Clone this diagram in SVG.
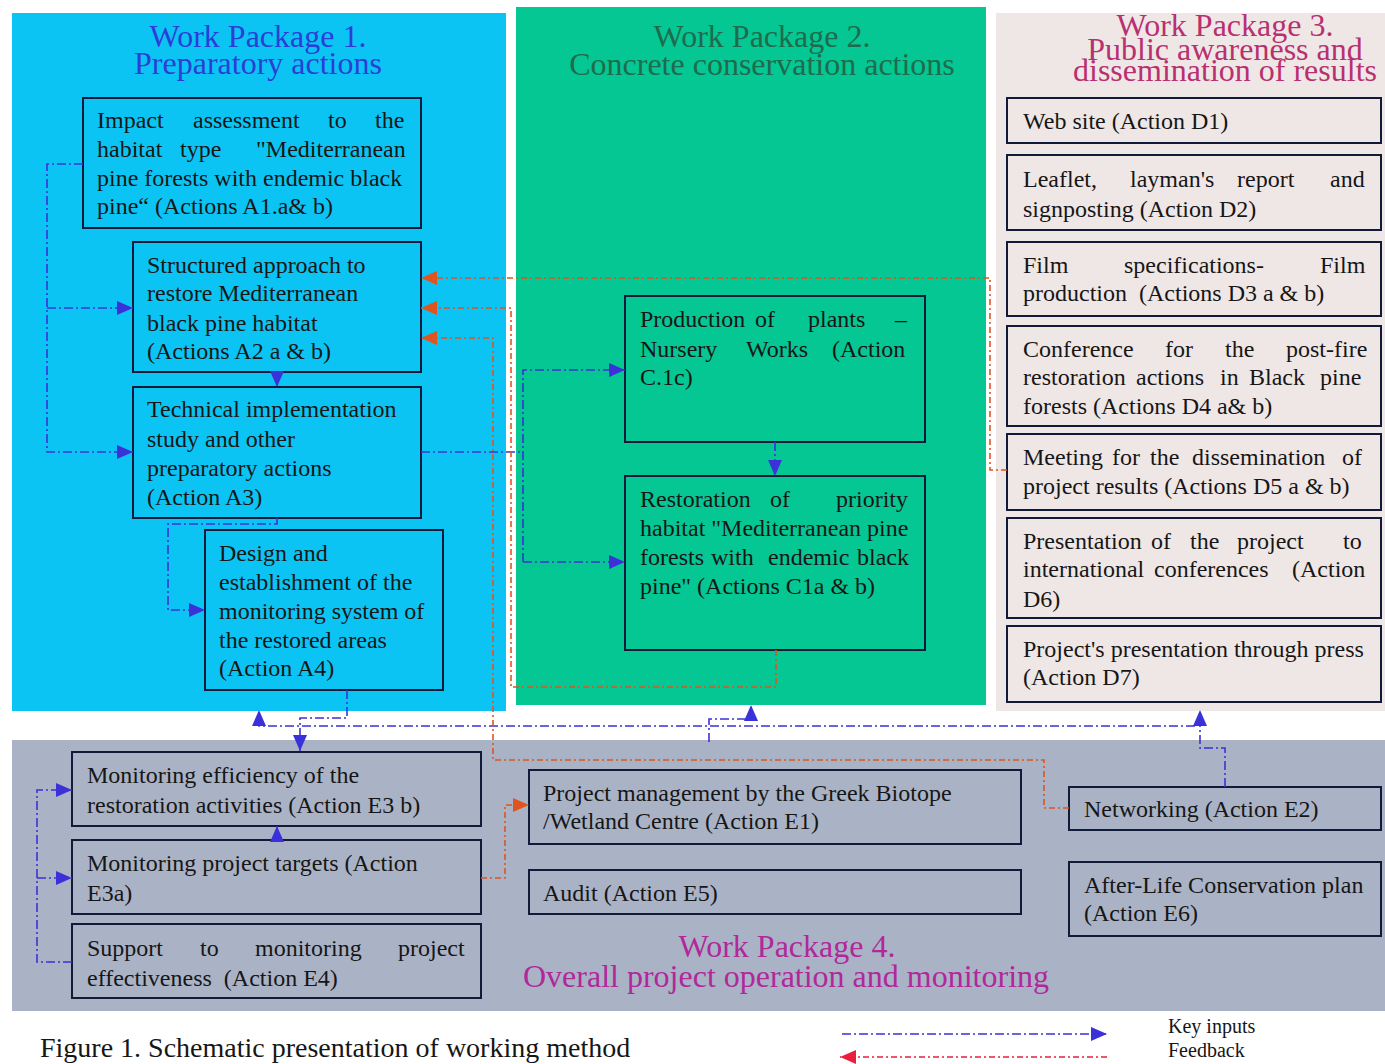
<svg xmlns="http://www.w3.org/2000/svg" width="1385" height="1064" viewBox="0 0 1385 1064">
<style>
text{font-family:"Liberation Serif","Times New Roman",serif;}
.t{font-size:24px;fill:#161616;}
.ttl{font-size:32px;text-anchor:middle;}
.box{stroke:#121a3a;stroke-width:2;}
.b1{fill:#0cc4f4;}
.b2{fill:#04c793;}
.b3{fill:#efe7e6;}
.b4{fill:#aab3c6;}
.key{fill:none;stroke:#3a32d8;stroke-width:1.6;stroke-dasharray:9 3 2 3;}
.fb{fill:none;stroke:#e0541e;stroke-width:1.6;stroke-dasharray:6 3 2 3;}
</style>
<defs>
<marker id="mk" markerUnits="userSpaceOnUse" markerWidth="16" markerHeight="14" refX="16" refY="7" orient="auto" viewBox="0 0 16 14"><path d="M0,0 L16,7 L0,14 z" fill="#3a32d8"/></marker>
<marker id="mf" markerUnits="userSpaceOnUse" markerWidth="16" markerHeight="14" refX="16" refY="7" orient="auto" viewBox="0 0 16 14"><path d="M0,0 L16,7 L0,14 z" fill="#e0541e"/></marker>
<marker id="mr" markerUnits="userSpaceOnUse" markerWidth="16" markerHeight="14" refX="16" refY="7" orient="auto" viewBox="0 0 16 14"><path d="M0,0 L16,7 L0,14 z" fill="#e8203c"/></marker>
</defs>
<rect width="1385" height="1064" fill="#ffffff"/>

<g id="wp1">
<rect class="b1" x="12" y="13" width="494" height="698"/>
<text class="ttl" x="258" y="47" fill="#2a3fd6">Work Package 1.</text>
<text class="ttl" x="258" y="74" fill="#2a3fd6">Preparatory actions</text>
</g>
<g id="wp2">
<rect class="b2" x="516" y="7" width="470" height="698"/>
<text class="ttl" x="762" y="47" fill="#1f6b4d">Work Package 2.</text>
<text class="ttl" x="762" y="75" fill="#1f6b4d">Concrete conservation actions</text>
</g>
<g id="wp3">
<rect class="b3" x="996" y="13" width="389" height="698"/>
<text class="ttl" x="1225" y="36" fill="#b83070">Work Package 3.</text>
<text class="ttl" x="1225" y="60" fill="#b83070">Public awareness and</text>
<text class="ttl" x="1225" y="81" fill="#b83070">dissemination of results</text>
</g>
<g id="wp4">
<rect class="b4" x="12" y="740" width="1373" height="271"/>
<text class="ttl" x="787" y="957" fill="#b0289a">Work Package 4.</text>
<text class="ttl" x="786" y="987" fill="#b0289a">Overall project operation and monitoring</text>
</g>

<g id="a1">
<rect class="box b1" x="83" y="98" width="338" height="130"/>
<text class="t" y="128"><tspan x="97">Impact</tspan><tspan x="193">assessment</tspan><tspan x="328">to</tspan><tspan x="375">the</tspan></text>
<text class="t" y="157"><tspan x="97">habitat</tspan><tspan x="180">type</tspan><tspan x="256">"Mediterranean</tspan></text>
<text class="t" x="97" y="186">pine forests with endemic black</text>
<text class="t" x="97" y="214">pine“ (Actions A1.a&amp; b)</text>
</g>
<g id="a2">
<rect class="box b1" x="133" y="242" width="288" height="130"/>
<text class="t" x="147" y="273">Structured approach to</text>
<text class="t" x="147" y="301">restore Mediterranean</text>
<text class="t" x="147" y="331">black pine habitat</text>
<text class="t" x="147" y="359">(Actions A2 a &amp; b)</text>
</g>
<g id="a3">
<rect class="box b1" x="133" y="387" width="288" height="131"/>
<text class="t" x="147" y="417">Technical implementation</text>
<text class="t" x="147" y="447">study and other</text>
<text class="t" x="147" y="476">preparatory actions</text>
<text class="t" x="147" y="505">(Action A3)</text>
</g>
<g id="a4">
<rect class="box b1" x="205" y="530" width="238" height="160"/>
<text class="t" x="219" y="561">Design and</text>
<text class="t" x="219" y="590">establishment of the</text>
<text class="t" x="219" y="619">monitoring system of</text>
<text class="t" x="219" y="648">the restored areas</text>
<text class="t" x="219" y="676">(Action A4)</text>
</g>

<g id="c1c">
<rect class="box b2" x="625" y="296" width="300" height="146"/>
<text class="t" y="327"><tspan x="640">Production</tspan><tspan x="755">of</tspan><tspan x="808">plants</tspan><tspan x="895">–</tspan></text>
<text class="t" y="357"><tspan x="640">Nursery</tspan><tspan x="746">Works</tspan><tspan x="832">(Action</tspan></text>
<text class="t" x="640" y="385">C.1c)</text>
</g>
<g id="c1ab">
<rect class="box b2" x="625" y="476" width="300" height="174"/>
<text class="t" y="507"><tspan x="640">Restoration</tspan><tspan x="770">of</tspan><tspan x="836">priority</tspan></text>
<text class="t" x="640" y="536">habitat "Mediterranean pine</text>
<text class="t" y="565"><tspan x="640">forests</tspan><tspan x="711">with</tspan><tspan x="768">endemic</tspan><tspan x="857">black</tspan></text>
<text class="t" x="640" y="594">pine" (Actions C1a &amp; b)</text>
</g>

<g id="d1">
<rect class="box b3" x="1007" y="98" width="374" height="45"/>
<text class="t" x="1023" y="129">Web site (Action D1)</text>
</g>
<g id="d2">
<rect class="box b3" x="1007" y="155" width="374" height="75"/>
<text class="t" y="187"><tspan x="1023">Leaflet,</tspan><tspan x="1130">layman's</tspan><tspan x="1237">report</tspan><tspan x="1330">and</tspan></text>
<text class="t" x="1023" y="217">signposting (Action D2)</text>
</g>
<g id="d3">
<rect class="box b3" x="1007" y="242" width="374" height="74"/>
<text class="t" y="273"><tspan x="1023">Film</tspan><tspan x="1124">specifications-</tspan><tspan x="1320">Film</tspan></text>
<text class="t" x="1023" y="301" xml:space="preserve">production  (Actions D3 a &amp; b)</text>
</g>
<g id="d4">
<rect class="box b3" x="1007" y="326" width="374" height="100"/>
<text class="t" y="357"><tspan x="1023">Conference</tspan><tspan x="1165">for</tspan><tspan x="1225">the</tspan><tspan x="1286">post-fire</tspan></text>
<text class="t" y="385"><tspan x="1023">restoration</tspan><tspan x="1136">actions</tspan><tspan x="1220">in</tspan><tspan x="1249">Black</tspan><tspan x="1320">pine</tspan></text>
<text class="t" x="1023" y="414">forests (Actions D4 a&amp; b)</text>
</g>
<g id="d5">
<rect class="box b3" x="1007" y="434" width="374" height="76"/>
<text class="t" y="465"><tspan x="1023">Meeting</tspan><tspan x="1112">for</tspan><tspan x="1150">the</tspan><tspan x="1192">dissemination</tspan><tspan x="1342">of</tspan></text>
<text class="t" x="1023" y="494">project results (Actions D5 a &amp; b)</text>
</g>
<g id="d6">
<rect class="box b3" x="1007" y="518" width="374" height="100"/>
<text class="t" y="549"><tspan x="1023">Presentation</tspan><tspan x="1151">of</tspan><tspan x="1190">the</tspan><tspan x="1237">project</tspan><tspan x="1343">to</tspan></text>
<text class="t" y="577"><tspan x="1023">international</tspan><tspan x="1154">conferences</tspan><tspan x="1292">(Action</tspan></text>
<text class="t" x="1023" y="607">D6)</text>
</g>
<g id="d7">
<rect class="box b3" x="1007" y="626" width="374" height="76"/>
<text class="t" x="1023" y="657">Project's presentation through press</text>
<text class="t" x="1023" y="685">(Action D7)</text>
</g>

<g id="e3b">
<rect class="box b4" x="72" y="752" width="409" height="74"/>
<text class="t" x="87" y="783">Monitoring efficiency of the</text>
<text class="t" x="87" y="813">restoration activities (Action E3 b)</text>
</g>
<g id="e3a">
<rect class="box b4" x="72" y="840" width="409" height="74"/>
<text class="t" x="87" y="871">Monitoring project targets (Action</text>
<text class="t" x="87" y="901">E3a)</text>
</g>
<g id="e4">
<rect class="box b4" x="72" y="924" width="409" height="74"/>
<text class="t" y="956"><tspan x="87">Support</tspan><tspan x="200">to</tspan><tspan x="255">monitoring</tspan><tspan x="398">project</tspan></text>
<text class="t" x="87" y="986" xml:space="preserve">effectiveness  (Action E4)</text>
</g>
<g id="e1">
<rect class="box b4" x="529" y="770" width="492" height="74"/>
<text class="t" x="543" y="801">Project management by the Greek Biotope</text>
<text class="t" x="543" y="829">/Wetland Centre (Action E1)</text>
</g>
<g id="e5">
<rect class="box b4" x="529" y="870" width="492" height="44"/>
<text class="t" x="543" y="901">Audit (Action E5)</text>
</g>
<g id="e2">
<rect class="box b4" x="1069" y="787" width="312" height="43"/>
<text class="t" x="1084" y="817">Networking (Action E2)</text>
</g>
<g id="e6">
<rect class="box b4" x="1069" y="862" width="312" height="74"/>
<text class="t" x="1084" y="893">After-Life Conservation plan</text>
<text class="t" x="1084" y="921">(Action E6)</text>
</g>

<g id="connectors">
<path class="key" d="M83,164 H47 V452 H133" marker-end="url(#mk)"/>
<path class="key" d="M47,308 H133" marker-end="url(#mk)"/>
<path class="key" d="M277,372 V387" marker-end="url(#mk)"/>
<path class="key" d="M277,518 V524 H168 V610 H205" marker-end="url(#mk)"/>
<path class="key" d="M421,452 H523"/>
<path class="key" d="M523,562 V370 H625" marker-end="url(#mk)"/>
<path class="key" d="M523,562 H625" marker-end="url(#mk)"/>
<path class="key" d="M775,442 V476" marker-end="url(#mk)"/>
<path class="key" d="M347,690 V718 H300 V751" marker-end="url(#mk)"/>
<path class="key" d="M1195,726 H259 V710" marker-end="url(#mk)"/>
<path class="key" d="M709,742 V719 H751 V705" marker-end="url(#mk)"/>
<path class="key" d="M1225,787 V748 H1200 V710" marker-end="url(#mk)"/>
<path class="key" d="M72,962 H37 V790 H72" marker-end="url(#mk)"/>
<path class="key" d="M37,878 H72" marker-end="url(#mk)"/>
<path class="key" d="M277,840 V826" marker-end="url(#mk)"/>
<path class="fb" d="M1007,470 H990 V278 H421" marker-end="url(#mf)"/>
<path class="fb" d="M776,650 V687 H511 V308 H421" marker-end="url(#mf)"/>
<path class="fb" d="M1069,808 H1044 V760 H493 V338 H421" marker-end="url(#mf)"/>
<path class="fb" d="M481,878 H505 V805 H529" marker-end="url(#mf)"/>
</g>

<g id="legend">
<path class="key" d="M842,1034 H1107" marker-end="url(#mk)"/>
<path class="fb" d="M1107,1057 H840" style="stroke:#e8203c" marker-end="url(#mr)"/>
<text x="1168" y="1033" style="font-size:20px;fill:#161616">Key inputs</text>
<text x="1168" y="1057" style="font-size:20px;fill:#161616">Feedback</text>
<text x="40" y="1057" style="font-size:28px;fill:#161616">Figure 1. Schematic presentation of working method</text>
</g>
</svg>
